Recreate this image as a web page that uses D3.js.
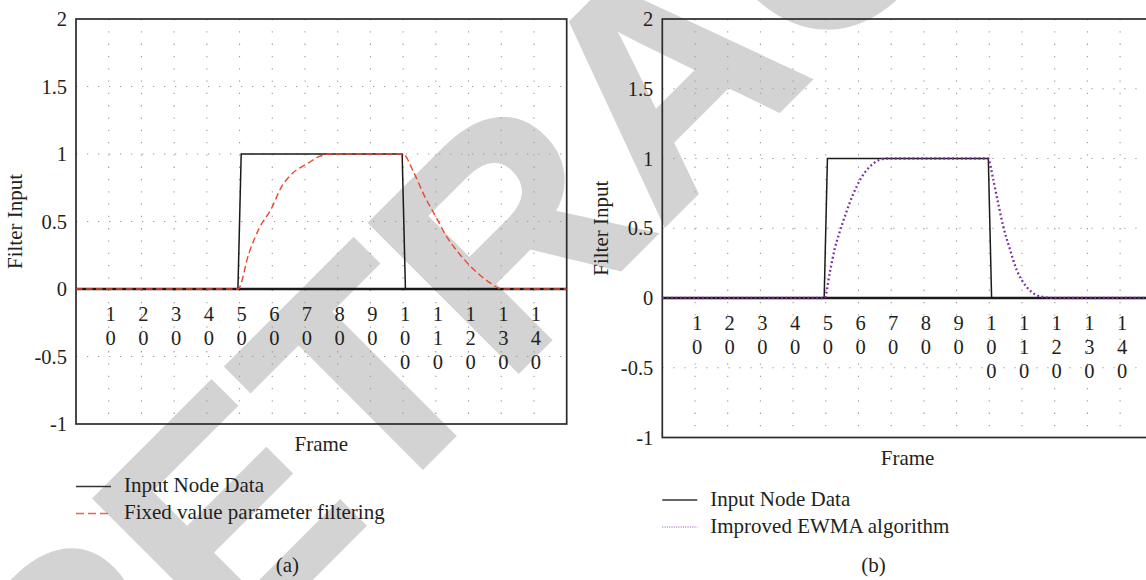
<!DOCTYPE html>
<html>
<head>
<meta charset="utf-8">
<script src="https://cdn.jsdelivr.net/npm/d3@7"></script>
<style>
body{margin:0;background:#fff;}
svg text{font-family:"Liberation Serif","DejaVu Serif",serif;fill:#231f20;}
</style>
</head>
<body>
<svg id="chart"></svg>
<script>
// values
var frameTicks = [10,20,30,40,50,60,70,80,90,100,110,120,130,140];
var yTicks = [-1,-0.5,0,0.5,1,1.5,2];
var gridY = [-0.5,0.5,1,1.5];

var inputFrames = [0,49.5,50.5,99.7,100.7,150];
var inputValues = [0,0,1,1,0,0];

var fixedFrames = [0,49.5,52.8,56.2,59.5,62.9,66.3,70.8,74.2,77.6,99.9,103.3,106.7,110,113.4,117.9,122.3,126.8,130.2,150];
var fixedValues = [0,0,0.26,0.46,0.585,0.76,0.86,0.93,0.98,1,1,0.86,0.68,0.535,0.385,0.24,0.128,0.042,0,0];

var ewmaFrames = [0,49.6,51.2,52.7,54.2,56.2,58.3,60.8,63.4,66.4,68.6,99.6,101.2,102.7,104.3,106.3,108.4,111.4,114.5,117.5,120,150];
var ewmaValues = [0,0,0.18,0.35,0.47,0.61,0.74,0.86,0.94,0.99,1,1,0.85,0.68,0.51,0.35,0.2,0.08,0.02,0.004,0,0];

var legendA = ['Input Node Data','Fixed value parameter filtering'];
var legendB = ['Input Node Data','Improved EWMA algorithm'];
var panelNames = ['(a)','(b)'];
var watermark = 'RETRACTED';

var w = 1146;
var h = 580;

var svg = d3.select('#chart')
            .attr('width',w)
            .attr('height',h);

svg.append('rect')
   .attr('width',w)
   .attr('height',h)
   .attr('fill','#fff');

// retraction stamp behind everything
svg.append('text')
   .attr('transform','translate(73,817) rotate(-45)')
   .style('font-family','"Liberation Sans",Arial,sans-serif')
   .style('font-weight','bold')
   .style('font-size','305px')
   .style('fill','#d3d3d3')
   .style('stroke','#d3d3d3')
   .style('stroke-width',4)
   .text(watermark);

var zip = function(a,b){
  return a.map(function(v,i){ return [v,b[i]]; });
};

var panels = [
  {left:76, right:566.7, top:19, bottom:424, name:panelNames[0], legend:legendA,
   series:zip(fixedFrames,fixedValues), color:'#e8482e', dash:'6.5,3.5', width:1.4,
   legDash:'8,4', legWidth:1.6, legColor:'#f0624c'},
  {left:662.3, right:1152.8, top:19, bottom:437.5, name:panelNames[1], legend:legendB,
   series:zip(ewmaFrames,ewmaValues), color:'#7a2e9e', dash:'1.8,2.6', width:2.3,
   legDash:'1,1.3', legWidth:1, legColor:'#8a4aac'}
];

var drawPanel = function(p){
  var x = d3.scaleLinear().domain([0,150]).range([p.left,p.right]);
  var y = d3.scaleLinear().domain([-1,2]).range([p.bottom,p.top]);
  var g = svg.append('g');

  g.selectAll('.vgrid')
   .data(frameTicks)
   .enter()
   .append('line')
   .attr('x1',function(d){ return x(d); })
   .attr('x2',function(d){ return x(d); })
   .attr('y1',y(2))
   .attr('y2',y(-1))
   .attr('stroke','#9a9a9a')
   .attr('stroke-width',1.1)
   .attr('stroke-dasharray','1.3,11');

  g.selectAll('.hgrid')
   .data(gridY)
   .enter()
   .append('line')
   .attr('x1',x(0))
   .attr('x2',x(150))
   .attr('y1',function(d){ return y(d); })
   .attr('y2',function(d){ return y(d); })
   .attr('stroke','#9a9a9a')
   .attr('stroke-width',1.1)
   .attr('stroke-dasharray','1.3,9.7');

  g.append('rect')
   .attr('x',x(0))
   .attr('y',y(2))
   .attr('width',x(150)-x(0))
   .attr('height',y(-1)-y(2))
   .attr('fill','none')
   .attr('stroke','#2b2b2b')
   .attr('stroke-width',1.7);

  var yAxis = d3.axisLeft(y)
                .tickValues(yTicks)
                .tickSize(0)
                .tickPadding(9)
                .tickFormat(function(d){ return String(d); });
  var ya = g.append('g')
            .attr('transform','translate('+x(0)+',0)')
            .call(yAxis);
  ya.select('.domain').remove();
  ya.selectAll('text')
    .style('font-family','"Liberation Serif",serif')
    .style('font-size','20.5px')
    .attr('fill','#231f20');

  // frame labels, one digit per row
  g.selectAll('.xlab')
   .data(frameTicks)
   .enter()
   .append('text')
   .attr('text-anchor','middle')
   .style('font-size','20.5px')
   .each(function(d){
     var t = d3.select(this);
     String(d).split('').forEach(function(c,i){
       t.append('tspan')
        .attr('x',x(d)+2)
        .attr('y',y(0)+31.7+i*24.3)
        .text(c);
     });
   });

  g.append('line')
   .attr('x1',x(0))
   .attr('x2',x(150))
   .attr('y1',y(0))
   .attr('y2',y(0))
   .attr('stroke','#1a1a1a')
   .attr('stroke-width',2.6);

  var straight = d3.line()
                   .x(function(d){ return x(d[0]); })
                   .y(function(d){ return y(d[1]); });
  var smooth = d3.line()
                 .curve(d3.curveMonotoneX)
                 .x(function(d){ return x(d[0]); })
                 .y(function(d){ return y(d[1]); });

  g.append('path')
   .attr('d',straight(zip(inputFrames,inputValues)))
   .attr('fill','none')
   .attr('stroke','#1a1a1a')
   .attr('stroke-width',1.5);

  g.append('path')
   .attr('d',smooth(p.series))
   .attr('fill','none')
   .attr('stroke',p.color)
   .attr('stroke-width',p.width)
   .attr('stroke-dasharray',p.dash);

  var cx = (x(0)+x(150))/2;

  g.append('text')
   .attr('transform','translate('+(x(0)-54)+','+((y(2)+y(-1))/2)+') rotate(-90)')
   .attr('text-anchor','middle')
   .style('font-size','21px')
   .text('Filter Input');

  g.append('text')
   .attr('x',cx)
   .attr('y',y(-1)+27)
   .attr('text-anchor','middle')
   .style('font-size','21px')
   .text('Frame');

  var rows = [62.5,89.5];
  p.legend.forEach(function(label,i){
    var ly = y(-1)+rows[i];
    g.append('line')
     .attr('x1',x(0))
     .attr('x2',x(0)+35)
     .attr('y1',ly)
     .attr('y2',ly)
     .attr('stroke',i==0 ? '#333' : p.legColor)
     .attr('stroke-width',i==0 ? 1.6 : p.legWidth)
     .attr('stroke-dasharray',i==0 ? null : p.legDash);
    g.append('text')
     .attr('x',x(0)+48)
     .attr('y',ly+5.5)
     .style('font-size','21px')
     .text(label);
  });

  g.append('text')
   .attr('x',cx-34)
   .attr('y',572)
   .attr('text-anchor','middle')
   .style('font-size','21px')
   .text(p.name);
};

panels.forEach(drawPanel);
</script>
</body>
</html>
